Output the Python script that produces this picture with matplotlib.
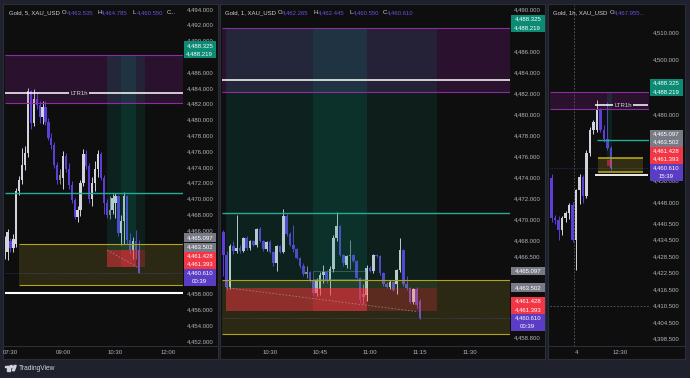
import numpy as np
import matplotlib
matplotlib.use("Agg")
import matplotlib.pyplot as plt
from matplotlib import transforms
from matplotlib.patches import Rectangle, Polygon, Circle
from matplotlib.lines import Line2D

plt.rcParams['font.family'] = ['Liberation Sans', 'DejaVu Sans']

#%% data

# levels shared by all three charts
zone_lo, zone_hi = 4482.1, 4488.22
ltr_level = 4483.3
teal_level = 4470.65
yellow_lo, yellow_hi = 4459.05, 4464.2
white_level = 4458.0
entry, stop, target = 4463.5, 4461.3, 4488.22
path_end = 4461.2
last_price = 4460.61
gray_levels = [4463.502, 4465.097]
red_levels = [4461.428, 4461.393]
green_levels = [4488.325, 4488.219]

# 5 min chart, minutes after 07:00
m5_start = 20
m5_open = [4462.9, 4463.3, 4464.6, 4463.7, 4464.3, 4470.9, 4472.3, 4474.3, 4475.8, 4483.6, 4479.6, 4482.6,
           4481.9, 4480.3, 4481.6, 4479.7, 4477.7, 4476.8, 4474.3, 4472.3, 4472.6, 4475.4, 4473.8, 4471.7,
           4469.8, 4467.7, 4468.5, 4472.0, 4475.7, 4474.1, 4469.9, 4472.0, 4473.7, 4475.6, 4472.6, 4469.5,
           4467.9, 4468.5, 4469.4, 4470.3, 4465.6, 4467.2, 4470.3, 4464.7, 4463.5, 4464.6, 4463.535]
m5_high = [4465.2, 4466.2, 4465.0, 4465.5, 4471.3, 4472.9, 4476.4, 4476.6, 4484.0, 4483.8, 4483.9, 4483.5,
           4482.4, 4482.3, 4482.4, 4480.2, 4478.3, 4477.2, 4474.6, 4473.8, 4476.0, 4475.8, 4474.5, 4472.2,
           4470.1, 4469.0, 4472.4, 4476.3, 4476.2, 4474.5, 4472.7, 4474.8, 4476.2, 4475.9, 4473.0, 4470.0,
           4470.3, 4470.6, 4470.7, 4470.5, 4467.9, 4470.8, 4470.5, 4465.6, 4465.1, 4466.0, 4464.785]
m5_low = [4462.3, 4462.2, 4463.3, 4463.2, 4463.9, 4470.4, 4471.8, 4473.6, 4475.3, 4478.8, 4479.2, 4481.4,
          4479.6, 4479.4, 4479.3, 4477.4, 4476.3, 4473.9, 4471.9, 4471.8, 4471.2, 4473.3, 4471.2, 4469.5,
          4467.4, 4467.0, 4467.8, 4471.6, 4473.7, 4469.5, 4469.0, 4471.0, 4472.7, 4472.3, 4468.0, 4467.5,
          4467.4, 4468.0, 4467.5, 4465.2, 4464.1, 4464.2, 4464.3, 4463.0, 4462.4, 4462.4, 4460.55]
m5_close = [4464.9, 4465.8, 4463.7, 4464.9, 4470.9, 4472.3, 4474.3, 4475.8, 4483.6, 4479.6, 4482.6, 4481.9,
            4480.3, 4481.6, 4479.7, 4477.7, 4476.8, 4474.3, 4472.3, 4473.0, 4475.4, 4473.8, 4471.7, 4469.8,
            4467.7, 4468.5, 4472.0, 4475.7, 4474.1, 4469.9, 4472.0, 4473.7, 4475.6, 4472.6, 4469.5, 4467.9,
            4468.5, 4470.1, 4470.3, 4465.6, 4467.2, 4470.3, 4464.7, 4463.5, 4464.6, 4463.535, 4460.61]

# 1 min chart, minutes after 10:00
m1_start = 16
m1_open = [4468.8, 4466.6, 4463.6, 4467.5, 4467.0, 4467.3, 4467.0, 4468.2, 4467.3, 4467.9, 4467.6, 4469.1,
           4467.9, 4467.2, 4467.8, 4466.9, 4465.8, 4467.5, 4466.9, 4470.3, 4468.6, 4467.6, 4467.2, 4466.3,
           4465.6, 4464.8, 4465.0, 4464.1, 4463.0, 4463.4, 4464.7, 4465.0, 4464.1, 4465.3, 4468.2, 4469.4,
           4466.6, 4465.7, 4466.5, 4466.6, 4466.0, 4464.4, 4462.6, 4462.8, 4465.4, 4465.1, 4466.6, 4466.5,
           4464.9, 4463.8, 4463.6, 4464.0, 4463.8, 4465.2, 4467.1, 4463.8, 4463.5, 4462.1, 4463.4, 4462.265]
m1_high = [4469.0, 4467.0, 4467.7, 4467.9, 4470.4, 4467.6, 4468.3, 4468.4, 4468.0, 4468.0, 4469.2, 4469.3,
           4468.0, 4467.9, 4468.0, 4467.0, 4467.6, 4467.6, 4471.0, 4470.5, 4468.8, 4469.5, 4467.3, 4466.4,
           4465.8, 4465.6, 4465.1, 4464.3, 4464.4, 4465.0, 4465.7, 4465.2, 4465.6, 4468.5, 4470.7, 4469.5,
           4466.7, 4466.6, 4468.0, 4466.7, 4466.1, 4464.5, 4463.8, 4465.7, 4465.6, 4466.7, 4466.7, 4466.6,
           4465.0, 4464.0, 4464.2, 4464.1, 4465.3, 4468.2, 4467.2, 4464.6, 4463.6, 4463.5, 4463.6, 4462.445]
m1_low = [4464.6, 4463.3, 4463.4, 4466.7, 4466.8, 4466.8, 4466.9, 4467.1, 4467.1, 4467.5, 4467.4, 4467.8,
          4467.0, 4467.0, 4466.8, 4465.6, 4465.1, 4466.8, 4466.8, 4468.4, 4467.5, 4466.9, 4466.2, 4465.4,
          4464.6, 4464.4, 4464.0, 4462.8, 4462.7, 4462.8, 4463.9, 4463.9, 4462.8, 4465.0, 4467.9, 4466.5,
          4465.6, 4465.4, 4465.3, 4465.9, 4464.3, 4462.0, 4461.9, 4462.2, 4465.0, 4464.9, 4466.4, 4464.7,
          4463.7, 4463.5, 4463.4, 4463.2, 4462.9, 4465.0, 4463.7, 4463.3, 4462.0, 4461.9, 4461.6, 4460.55]
m1_close = [4466.6, 4463.6, 4467.5, 4467.0, 4467.3, 4467.0, 4468.2, 4467.3, 4467.9, 4467.6, 4469.1, 4467.9,
            4467.2, 4467.8, 4466.9, 4465.8, 4467.5, 4466.9, 4470.3, 4468.6, 4467.6, 4467.2, 4466.3, 4465.6,
            4464.8, 4465.0, 4464.1, 4463.0, 4464.2, 4464.7, 4465.0, 4464.1, 4465.3, 4468.2, 4469.4, 4466.6,
            4465.8, 4466.5, 4466.6, 4466.0, 4464.4, 4462.3, 4462.9, 4465.4, 4465.1, 4466.6, 4466.5, 4464.9,
            4463.8, 4463.6, 4464.0, 4463.3, 4465.2, 4467.1, 4463.8, 4463.5, 4462.1, 4463.4, 4461.8, 4460.61]

# 1 hour chart, hours after 00:00 of day 4
h1_start = -7
h1_open = [4457.0, 4442.5, 4441.5, 4438.0, 4442.4, 4444.3, 4447.0, 4434.5, 4452.4, 4457.3, 4450.5, 4466.0,
           4474.4, 4474.5, 4481.6, 4474.4, 4471.0, 4467.955]
h1_high = [4458.5, 4443.5, 4443.0, 4443.0, 4445.0, 4447.8, 4448.0, 4453.0, 4458.2, 4458.0, 4467.0, 4475.5,
           4478.0, 4485.3, 4482.5, 4476.0, 4484.5, 4468.5]
h1_low = [4441.0, 4440.0, 4434.5, 4436.0, 4441.0, 4442.0, 4433.5, 4423.5, 4447.5, 4447.8, 4449.5, 4465.0,
          4472.8, 4473.5, 4473.8, 4470.0, 4467.0, 4459.8]
h1_close = [4442.5, 4441.5, 4438.0, 4442.4, 4444.3, 4447.0, 4434.5, 4452.4, 4457.3, 4450.5, 4466.0, 4474.4,
            4477.3, 4481.6, 4474.4, 4471.0, 4467.955, 4460.61]

# axis ticks (only those not hidden behind the price labels)
m5_yticks = [4494, 4492, 4490, 4486, 4484, 4482, 4480, 4478, 4476, 4474, 4472, 4470, 4468, 4466,
             4458, 4456, 4454, 4452]
m1_yticks = [4490, 4486, 4484, 4482, 4480, 4478, 4476, 4474, 4472, 4470, 4468, 4466.5, 4458.8]
h1_yticks = [4510, 4500, 4480, 4456, 4448, 4440.5, 4434.5, 4428.5, 4422.5, 4416.5, 4410.5, 4404.5, 4398.5]
m5_xticks, m5_xlabels = [30, 120, 210, 300], ['07:30', '09:00', '10:30', '12:00']
m1_xticks, m1_xlabels = [30, 45, 60, 75, 90], ['10:30', '10:45', '11:00', '11:15', '11:30']
h1_xticks, h1_xlabels = [0, 12.5], ['4', '12:30']

# long position tools (start, end) in each chart's time units
m5_tools = [(195.5, 245.3), (219.5, 260.7)]
m1_tools = [(16.8, 59.1), (42.9, 80.1)]
h1_tools = [(8.9, 10.3)]
m1_box = (42.9, 58.5, 4464.3, 4465.1)
crosshair = (-0.5, 4410.5)

#%% style
W, H = 690, 378
BG = '#1f222c'
PANEL = '#0e0e0e'
EDGE = '#2a2e39'
TXT = '#b2b5be'
UP = '#d1d4dc'
FLAT = '#8a8d96'
DOWN = '#5b3fd6'
VAL = '#6a4fe0'
ZONE = '#9c27b0'
ZONE_EDGE = '#8b2fa0'
ZONE_BG = '#2a132e'
TEAL = '#1fae96'
YEL = '#ffeb3b'
YEL_EDGE = '#b3a516'
TOOL_G = '#089981'
TOOL_R = '#f23645'
FS = 4.3

fig = plt.figure(figsize=(W / 100, H / 100), dpi=100, facecolor=BG)
pix = transforms.Affine2D().scale(1 / W, -1 / H).translate(0, 1) + fig.transFigure


def rect(x0, y0, x1, y1):
    return [x0 / W, 1 - y1 / H, (x1 - x0) / W, (y1 - y0) / H]


def make_panel(fx0, fx1, px1, xlim, ylim, yticks, xticks, xlabels):
    frame = fig.add_axes(rect(fx0, 4, fx1, 359), zorder=0)
    frame.set_facecolor(PANEL)
    frame.set_xticks([])
    frame.set_yticks([])
    for s in frame.spines.values():
        s.set_color(EDGE)
        s.set_linewidth(0.8)
    ax = fig.add_axes(rect(fx0 + 2, 5, px1, 346), zorder=1)
    ax.patch.set_alpha(0)
    ax.set_xlim(*xlim)
    ax.set_ylim(*ylim)
    for s in ax.spines.values():
        s.set_visible(False)
    ax.yaxis.tick_right()
    ax.set_yticks(yticks)
    ax.set_yticklabels([f"{v:,.3f}" for v in yticks])
    ax.tick_params(axis='y', length=0, pad=3, labelsize=FS, labelcolor=TXT)
    ax.set_xticks([])
    fig.add_artist(Line2D([fx0, fx1], [346, 346], transform=pix, color=EDGE, lw=0.8, zorder=2))
    tr = transforms.blended_transform_factory(ax.transData, pix)
    for x, s in zip(xticks, xlabels):
        frame.text(x, 353, s, transform=tr, ha='center', va='center', fontsize=FS,
                   color=TXT, clip_on=True)
    return ax


def draw_candles(ax, t0, step, o, h, l, c, width, flat, minh):
    o, h, l, c = (np.asarray(a, float) for a in (o, h, l, c))
    t = t0 + step * np.arange(len(o))
    body = np.abs(c - o)
    col = np.where(c < o, DOWN, np.where(body < flat, FLAT, UP))
    ax.vlines(t, l, h, colors=col, lw=0.7, zorder=3)
    ax.bar(t, np.maximum(body, minh), width=width, bottom=np.minimum(o, c), color=col, lw=0, zorder=4)


def band(ax, x0, x1, lo, hi, color, alpha, edge=None, lw=0.8):
    ax.add_patch(Rectangle((x0, lo), x1 - x0, hi - lo, fc=color, alpha=alpha, ec='none', zorder=6))
    if edge:
        ax.hlines([lo, hi], x0, x1, colors=edge, lw=lw, zorder=7)


def tools(ax, spans):
    alphas = [(0.15, 0.5), (0.12, 0.25)]
    for (x0, x1), (ag, ar) in zip(spans, alphas):
        ax.add_patch(Rectangle((x0, entry), x1 - x0, target - entry, fc=TOOL_G, alpha=ag, ec='none', zorder=6))
        ax.add_patch(Rectangle((x0, stop), x1 - x0, entry - stop, fc=TOOL_R, alpha=ar, ec='none', zorder=6))


def price_labels(ax, x0, x1, timer):
    groups = [([f"{last_price:,.3f}", timer], last_price, 0, '#5b3cc4'),
              ([f"{v:,.3f}" for v in red_levels], np.mean(red_levels), 0.5, '#f23645'),
              ([f"{gray_levels[0]:,.3f}"], gray_levels[0], 0, '#787b86'),
              ([f"{gray_levels[1]:,.3f}"], gray_levels[1], 0, '#787b86'),
              ([f"{v:,.3f}" for v in green_levels], np.mean(green_levels), 1, '#0b8a74')]
    lh = 8.5
    prev_top = 1e9
    for lines, value, anchor, fc in groups:
        n = len(lines)
        yv = H - ax.transData.transform((ax.get_xlim()[0], value))[1]
        top = yv - lh / 2 - anchor * lh
        if top + n * lh > prev_top:
            top = prev_top - n * lh
        fig.add_artist(Rectangle((x0, top), x1 - x0, n * lh, transform=pix, fc=fc, ec='none', zorder=5))
        for k, s in enumerate(lines):
            fig.text((x0 + x1) / 2, top + lh * (k + 0.5), s, transform=pix, ha='center', va='center',
                     fontsize=FS, color='white', zorder=6)
        prev_top = top


def header(parts):
    for x, s, col in parts:
        fig.text(x, 13, s, transform=pix, ha='left', va='center', fontsize=FS, color=col, zorder=6)


def ltr_label(ax, x):
    ax.text(x, ltr_level, "LTR1h", ha='center', va='center', fontsize=FS, color=UP, zorder=9,
            bbox=dict(boxstyle='square,pad=0.25', fc=ZONE_BG, ec='none'))


#%% panel 1 : 5 min
ax1 = make_panel(3, 218, 183, (20.6, 325.7), (4451.34, 4494.5), m5_yticks, m5_xticks, m5_xlabels)
lim = ax1.get_xlim()
draw_candles(ax1, m5_start, 5, m5_open, m5_high, m5_low, m5_close, 3.9, 0.8, 0.12)
ax1.axhline(last_price, color='#2b2e63', lw=0.6, ls=(0, (1, 1)), zorder=2)
band(ax1, *lim, zone_lo, zone_hi, ZONE, 0.2, ZONE_EDGE)
band(ax1, 44.6, lim[1], yellow_lo, yellow_hi, YEL, 0.12, YEL_EDGE)
tools(ax1, m5_tools)
ax1.plot([m5_tools[0][0], m5_start + 5 * (len(m5_close) - 1)], [entry, path_end], color='#a0a0a0',
         lw=0.6, ls=(0, (2, 2)), alpha=0.7, zorder=8)
ax1.hlines(teal_level, *lim, colors=TEAL, lw=1.0, zorder=8)
ax1.hlines(ltr_level, *lim, colors='white', lw=1.1, zorder=8)
ax1.hlines(white_level, *lim, colors='white', lw=1.5, zorder=8)
ltr_label(ax1, 147.5)
price_labels(ax1, 183.5, 216, "00:39")
header([(9, "Gold, 5, XAU_USD", UP), (62, "O", UP), (66.5, f"{m5_open[-1]:,.3f}", VAL),
        (97.5, "H", UP), (101, f"{m5_high[-1]:,.3f}", VAL), (132.5, "L", UP),
        (136.5, f"{m5_low[-1]:,.3f}", VAL), (167, "C...", UP)])

#%% panel 2 : 1 min
ax2 = make_panel(220, 545, 510, (15.6, 102), (4457.94, 4490.41), m1_yticks, m1_xticks, m1_xlabels)
lim = ax2.get_xlim()
draw_candles(ax2, m1_start, 1, m1_open, m1_high, m1_low, m1_close, 0.8, 0.3, 0.1)
ax2.axhline(last_price, color='#2b2e63', lw=0.6, ls=(0, (1, 1)), zorder=2)
band(ax2, *lim, zone_lo, zone_hi, ZONE, 0.2, ZONE_EDGE)
band(ax2, *lim, yellow_lo, yellow_hi, YEL, 0.12, YEL_EDGE)
tools(ax2, m1_tools)
ax2.add_patch(Rectangle((m1_box[0], m1_box[2]), m1_box[1] - m1_box[0], m1_box[3] - m1_box[2], fc='none',
                        ec='#787b86', lw=0.5, alpha=0.7, zorder=8))
ax2.plot([m1_tools[0][0], m1_start + len(m1_close) - 1.5], [entry, path_end], color='#a0a0a0',
         lw=0.6, ls=(0, (2, 2)), alpha=0.7, zorder=8)
ax2.hlines(teal_level, *lim, colors=TEAL, lw=1.0, zorder=8)
ax2.hlines(ltr_level, *lim, colors='white', lw=1.1, zorder=8)
price_labels(ax2, 510.5, 545, "00:39")
header([(225, "Gold, 1, XAU_USD", UP), (278, "O", UP), (282, f"{m1_open[-1]:,.3f}", VAL),
        (314, "H", UP), (317.5, f"{m1_high[-1]:,.3f}", VAL), (349, "L", UP),
        (352.5, f"{m1_low[-1]:,.3f}", VAL), (383, "C", UP), (387, f"{m1_close[-1]:,.3f}", VAL)])

#%% panel 3 : 1 hour
ax3 = make_panel(548, 685, 649, (-7.43, 20.86), (4395.8, 4519.8), h1_yticks, h1_xticks, h1_xlabels)
lim = ax3.get_xlim()
ax3.axvline(crosshair[0], color='#5d606b', lw=0.6, ls=(0, (2, 2)), zorder=2)
ax3.axhline(crosshair[1], color='#5d606b', lw=0.6, ls=(0, (2, 2)), zorder=2)
ax3.axhline(last_price, color='#2b2e63', lw=0.6, ls=(0, (1, 1)), zorder=2)
draw_candles(ax3, h1_start, 1, h1_open, h1_high, h1_low, h1_close, 0.8, 1.5, 0.4)
band(ax3, *lim, zone_lo, zone_hi, ZONE, 0.2, ZONE_EDGE)
band(ax3, 6.3, 19.1, yellow_lo, yellow_hi, YEL, 0.15, YEL_EDGE, lw=1.2)
tools(ax3, h1_tools)
ax3.hlines(teal_level, 6.0, lim[1], colors=TEAL, lw=1.0, zorder=8)
ax3.hlines(ltr_level, 5.4, 20.6, colors='white', lw=1.1, zorder=8)
ax3.hlines(white_level, 5.4, 20.6, colors='white', lw=1.3, zorder=8)
ltr_label(ax3, 13.4)
price_labels(ax3, 649.5, 683, "15:39")
header([(553, "Gold, 1h, XAU_USD", UP), (609.5, "O", UP), (613.5, f"{h1_open[-1]:,.3f}...", VAL)])

#%% TradingView mark
for p in [Rectangle((5, 365.5), 4.5, 1.8), Rectangle((7.2, 365.5), 2.3, 5.2), Circle((11.4, 366.6), 1.1),
          Polygon([(12.3, 370.7), (14.2, 365.5), (16.2, 365.5), (14.3, 370.7)])]:
    p.set_transform(pix)
    p.set_color(UP)
    p.set_zorder(5)
    fig.add_artist(p)
fig.text(18.5, 368.2, "TradingView", transform=pix, ha='left', va='center', fontsize=4.8, color=UP)

fig.savefig("out.png", dpi=100, facecolor=BG)
